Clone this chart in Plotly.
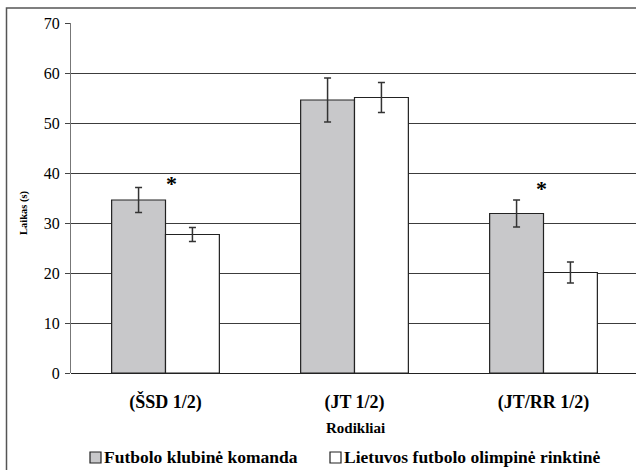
import plotly.graph_objects as go

categories = ["(ŠSD 1/2)", "(JT 1/2)", "(JT/RR 1/2)"]
club_values = [34.6, 54.6, 31.9]
club_errors = [2.5, 4.4, 2.7]
olympic_values = [27.7, 55.1, 20.1]
olympic_errors = [1.4, 3.0, 2.1]
series_names = ["Futbolo klubinė komanda", "Lietuvos futbolo olimpinė rinktinė"]
series_fills = ["#c8c8ca", "#ffffff"]
y_ticks = [0, 10, 20, 30, 40, 50, 60, 70]
# significance marks: category index, height (s)
star_positions = [(0, 38.0), (2, 37.0)]

FONT = "Liberation Serif"
W, H = 636, 470
L, R, T, B = 71, 0, 23, 97
plot_w = W - L - R
plot_h = H - T - B


def px_x(px):
    return (px - L) / plot_w


def px_y(py):
    return (H - B - py) / plot_h


fig = go.Figure()
for name, fill, vals, errs in zip(series_names, series_fills,
                                  [club_values, olympic_values],
                                  [club_errors, olympic_errors]):
    fig.add_trace(go.Bar(
        x=list(range(len(categories))), y=vals, name=name,
        marker=dict(color=fill, line=dict(color="#222222", width=1.2)),
        error_y=dict(type="data", array=errs, color="#333333", thickness=1.5, width=3.5),
    ))

for idx, yv in star_positions:
    fig.add_annotation(x=idx + 0.03 if idx == 0 else idx - 0.01, y=yv, text="<b>*</b>",
                       showarrow=False, font=dict(family=FONT, size=22, color="#000"),
                       xanchor="center", yanchor="middle")

# outer chart frame
fig.add_shape(type="rect", xref="paper", yref="paper",
              x0=px_x(6.5), x1=1.05, y0=px_y(480), y1=px_y(8),
              line=dict(color="#555555", width=1.5), fillcolor="rgba(0,0,0,0)", layer="above")

# legend row: boxed swatch followed by bold label
legend_boxes = [90, 330]
for name, fill, bx in zip(series_names, series_fills, legend_boxes):
    fig.add_shape(type="rect", xref="paper", yref="paper",
                  x0=px_x(bx), x1=px_x(bx + 11), y0=px_y(463), y1=px_y(452),
                  line=dict(color="#222222", width=1.2), fillcolor=fill, layer="above")
    fig.add_annotation(xref="paper", yref="paper", x=px_x(bx + 12), y=px_y(457),
                       text="<b>%s</b>" % name, showarrow=False,
                       font=dict(family=FONT, size=17.5, color="#000"),
                       xanchor="left", yanchor="middle")

fig.add_annotation(xref="paper", yref="paper", x=px_x(24), y=px_y(213),
                   text="<b>Laikas (s)</b>", textangle=-90, showarrow=False,
                   font=dict(family=FONT, size=10.5, color="#000"), xanchor="center", yanchor="middle")
fig.add_annotation(xref="paper", yref="paper", x=px_x(355), y=px_y(428),
                   text="<b>Rodikliai</b>", showarrow=False,
                   font=dict(family=FONT, size=15, color="#000"), xanchor="center", yanchor="middle")

fig.update_layout(
    width=W, height=H,
    margin=dict(l=L, r=R, t=T, b=B, autoexpand=False),
    paper_bgcolor="#ffffff", plot_bgcolor="#ffffff",
    barmode="group", bargap=0.43, bargroupgap=0,
    font=dict(family=FONT, color="#000"),
    showlegend=False,
    xaxis=dict(range=[-0.5, -0.5 + plot_w / 189.0], tickmode="array",
               tickvals=list(range(len(categories))),
               ticktext=["<b>%s</b>" % c for c in categories],
               tickfont=dict(family=FONT, size=18, color="#000"),
               showgrid=False, zeroline=False, showline=False, ticks="",
               ticklabelstandoff=16),
    yaxis=dict(range=[0, 70], tickmode="array", tickvals=y_ticks,
               tickfont=dict(family=FONT, size=16, color="#000"),
               showgrid=True, gridcolor="#3c3c3c", gridwidth=1,
               zeroline=True, zerolinecolor="#222222", zerolinewidth=1.2,
               showline=True, linecolor="#777777", linewidth=1.2,
               ticks="outside", ticklen=5, tickcolor="#444444", ticklabelstandoff=2),
)

fig.write_html("out.html")
